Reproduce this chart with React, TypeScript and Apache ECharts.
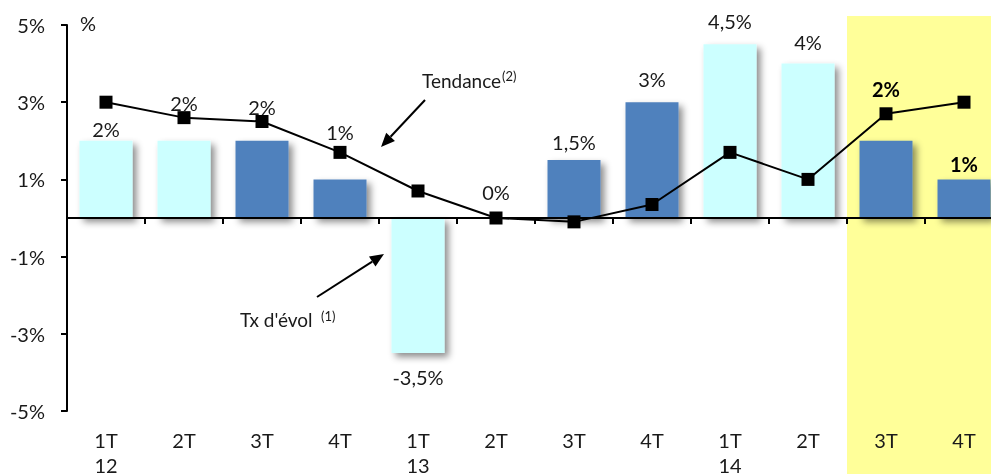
import React, { useEffect, useRef } from "react";
import * as echarts from "echarts";

const categories = ["1T\n12", "2T", "3T", "4T", "1T\n13", "2T", "3T", "4T", "1T\n14", "2T", "3T", "4T"];
const evolution = [2, 2, 2, 1, -3.5, 0, 1.5, 3, 4.5, 4, 2, 1];
const trend = [3, 2.6, 2.5, 1.7, 0.7, 0, -0.1, 0.35, 1.7, 1.0, 2.7, 3.0];
const yMin = -5;
const yMax = 5;
const yStep = 2;
const highlightFrom = 10; // index of first highlighted quarter

// styling (label distance from bar end)
const labelGap = [2, 28, 24, 37, 14, 16, 8, 13, 13, 12, 42, 5];

const FONT = "Lato, 'Noto Sans', sans-serif";
const LIGHT = "#CCFFFF";
const DARK = "#4F81BD";
const INK = "#1a1a1a";

const fmt = (v: number) => String(v).replace(".", ",") + "%";

function arrow(x1: number, y1: number, x2: number, y2: number) {
  const ang = Math.atan2(y2 - y1, x2 - x1);
  const len = 14;
  const half = 6;
  const bx = x2 - len * Math.cos(ang);
  const by = y2 - len * Math.sin(ang);
  const px = -Math.sin(ang) * half;
  const py = Math.cos(ang) * half;
  return [
    { type: "line", shape: { x1, y1, x2: bx, y2: by }, style: { stroke: "#000", lineWidth: 2 }, z: 50 },
    {
      type: "polygon",
      shape: { points: [[x2, y2], [bx + px, by + py], [bx - px, by - py]] },
      style: { fill: "#000" },
      z: 50,
    },
  ];
}

export default function App() {
  const ref = useRef<HTMLDivElement>(null);
  useEffect(() => {
    if (!ref.current) return;
    document.body.style.overflow = "hidden";
    const chart = echarts.init(ref.current, undefined, { renderer: "svg" });
    const barData = evolution.map((v, i) => {
      const bold = i >= highlightFrom;
      return {
        value: v,
        itemStyle: { color: i % 4 < 2 ? LIGHT : DARK },
        label: {
          show: true,
          position: v < 0 ? "bottom" : "top",
          distance: labelGap[i],
          formatter: () => fmt(v),
          fontWeight: bold ? "bold" : "normal",
          fontSize: 20,
          color: bold ? "#000" : INK,
          fontFamily: FONT,
        },
      };
    });
    const option: any = {
      animation: false,
      textStyle: { fontFamily: FONT },
      grid: {
        left: 67,
        top: 25,
        width: 936,
        height: 386,
        containLabel: false,
        outerBoundsMode: "none",
      },
      xAxis: [
        {
          type: "category",
          data: categories,
          axisLine: { onZero: true, lineStyle: { color: "#000", width: 2 } },
          axisTick: { show: true, length: 6, lineStyle: { color: "#000", width: 2 } },
          axisLabel: { show: false },
          splitLine: { show: false },
          z: 10,
        },
        {
          type: "category",
          data: categories,
          position: "bottom",
          axisLine: { show: false, onZero: false },
          axisTick: { show: false },
          axisLabel: {
            show: true,
            margin: 16,
            fontSize: 20,
            lineHeight: 25,
            color: INK,
            fontFamily: FONT,
            interval: 0,
          },
        },
      ],
      yAxis: {
        type: "value",
        min: yMin,
        max: yMax,
        interval: yStep,
        axisLine: { show: true, lineStyle: { color: "#000", width: 2 } },
        axisTick: { show: true, length: 6, lineStyle: { color: "#000", width: 2 } },
        axisLabel: {
          formatter: (v: number) => v + "%",
          fontSize: 20,
          color: INK,
          margin: 22,
          fontFamily: FONT,
        },
        splitLine: { show: false },
        z: 10,
      },
      series: [
        {
          type: "bar",
          data: barData,
          barWidth: 53,
          itemStyle: {
            shadowColor: "rgba(0,0,0,0.45)",
            shadowBlur: 7,
            shadowOffsetX: 4,
            shadowOffsetY: 4,
          },
          z: 2,
        },
        {
          type: "line",
          data: trend,
          symbol: "rect",
          symbolSize: 13,
          itemStyle: { color: "#000" },
          lineStyle: { color: "#000", width: 2 },
          z: 5,
        },
      ],
    };
    chart.setOption(option);

    const c0 = chart.convertToPixel({ xAxisIndex: 0 }, 0) as number;
    const c1 = chart.convertToPixel({ xAxisIndex: 0 }, 1) as number;
    const band = c1 - c0;
    const hx = (chart.convertToPixel({ xAxisIndex: 0 }, highlightFrom) as number) - band / 2;
    const topPx = (chart.convertToPixel({ yAxisIndex: 0 }, yMax) as number) - 9;

    chart.setOption({
      graphic: [
        {
          type: "rect",
          shape: { x: hx, y: topPx, width: 2000, height: 1000 },
          style: { fill: "#FFFF99" },
          z: -10,
          silent: true,
        },
        {
          type: "text",
          x: 80,
          y: 23,
          style: { text: "%", fontSize: 20, fill: INK, fontFamily: FONT, verticalAlign: "middle" },
          z: 50,
        },
        {
          type: "text",
          x: 422,
          y: 80,
          style: { text: "Tendance", fontSize: 19, fill: INK, fontFamily: FONT, verticalAlign: "middle" },
          z: 50,
        },
        {
          type: "text",
          x: 502,
          y: 76,
          style: { text: "(2)", fontSize: 13, fill: INK, fontFamily: FONT, verticalAlign: "middle" },
          z: 50,
        },
        ...arrow(425, 100, 381, 147),
        {
          type: "text",
          x: 240,
          y: 319,
          style: { text: "Tx d'évol", fontSize: 19, fill: INK, fontFamily: FONT, verticalAlign: "middle" },
          z: 50,
        },
        {
          type: "text",
          x: 321,
          y: 316,
          style: { text: "(1)", fontSize: 13, fill: INK, fontFamily: FONT, verticalAlign: "middle" },
          z: 50,
        },
        ...arrow(317, 297, 384, 254),
      ],
    });

    return () => chart.dispose();
  }, []);
  return (
    <div
      ref={ref}
      style={{ position: "fixed", left: 0, top: 0, width: 991, height: 474, overflow: "hidden" }}
    />
  );
}
